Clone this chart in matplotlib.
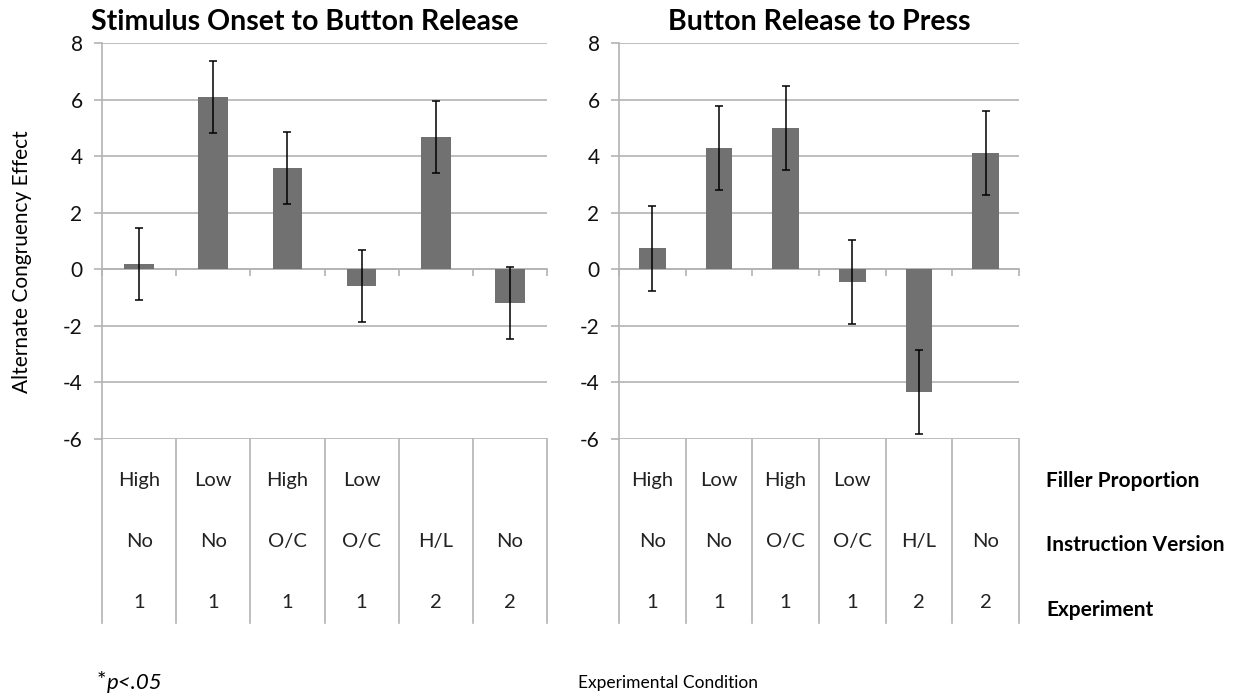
import numpy as np
import matplotlib.pyplot as plt
from matplotlib import transforms

plt.rcParams['font.family'] = ['Lato', 'DejaVu Sans']
plt.rcParams['axes.unicode_minus'] = False

# data
filler = ['High', 'Low', 'High', 'Low', '', '']
instruction = ['No', 'No', 'O/C', 'O/C', 'H/L', 'No']
experiment = ['1', '1', '1', '1', '2', '2']
row_names = ['Filler Proportion', 'Instruction Version', 'Experiment']

release_vals = [0.2, 6.1, 3.58, -0.6, 4.68, -1.2]
release_err = [1.27, 1.27, 1.27, 1.27, 1.27, 1.27]
press_vals = [0.74, 4.28, 5.0, -0.44, -4.35, 4.1]
press_err = [1.49, 1.49, 1.49, 1.49, 1.49, 1.49]

titles = ['Stimulus Onset to Button Release', 'Button Release to Press']

W, H = 1250, 700
fig = plt.figure(figsize=(12.5, 7), dpi=100)

grid_col = '#b3b3b3'
bar_col = '#717171'


def px_axes(x0, x1, y_top, y_bot):
    return fig.add_axes([x0 / W, 1 - y_bot / H, (x1 - x0) / W, (y_bot - y_top) / H])


def draw_panel(ax, vals, errs):
    x = np.arange(len(vals))
    ax.bar(x, vals, width=0.4, color=bar_col, zorder=3)
    ax.errorbar(x, vals, yerr=errs, fmt='none', ecolor='black', elinewidth=1.1,
                capsize=2.8, capthick=1.1, zorder=4)
    ax.set_xlim(-0.5, len(vals) - 0.5)
    ax.set_ylim(-6, 8)
    ax.set_yticks(np.arange(-6, 9, 2))
    ax.yaxis.grid(True, color=grid_col, linewidth=1.2, zorder=0)
    for s in ['top', 'right']:
        ax.spines[s].set_visible(False)
    ax.spines['left'].set_color(grid_col)
    ax.spines['left'].set_linewidth(1.2)
    ax.spines['bottom'].set_position(('data', 0))
    ax.spines['bottom'].set_color(grid_col)
    ax.spines['bottom'].set_linewidth(1.2)
    ax.spines['bottom'].set_zorder(2)
    bounds = np.arange(-0.5, len(vals), 1.0)
    ax.set_xticks(bounds)
    ax.set_xticklabels([])
    ax.tick_params(axis='x', direction='out', length=5, color=grid_col, width=1.2)
    ax.tick_params(axis='y', direction='out', length=6, color=grid_col, width=1.2,
                   labelsize=15, pad=8, labelcolor='#111111')

    # category table under the plot
    trans = transforms.blended_transform_factory(ax.transData, ax.transAxes)
    for b in bounds:
        ax.plot([b, b], [0, -0.465], transform=trans, color=grid_col,
                linewidth=1.2, clip_on=False)
    for i in range(len(vals)):
        for row, ypos in zip([filler, instruction, experiment], [-0.104, -0.26, -0.414]):
            ax.text(i, ypos, row[i], transform=trans, ha='center', va='center',
                    fontsize=14.5, color='#222222')


ax1 = px_axes(102, 547, 43, 439)
draw_panel(ax1, release_vals, release_err)
ax2 = px_axes(619, 1019, 43, 439)
draw_panel(ax2, press_vals, press_err)

fig.text(305 / W, 1 - 22 / H, titles[0], ha='center', va='center',
         fontsize=20.5, fontweight='bold')
fig.text(819 / W, 1 - 22 / H, titles[1], ha='center', va='center',
         fontsize=20.5, fontweight='bold')

fig.text(22 / W, 1 - 262 / H, 'Alternate Congruency Effect', rotation=90,
         ha='center', va='center', fontsize=15)

for name, ypx in zip(row_names, [481, 545, 610]):
    fig.text(1046 / W, 1 - ypx / H, name, ha='left', va='center',
             fontsize=15, fontweight='bold')

fig.text(668 / W, 1 - 683 / H, 'Experimental Condition', ha='center', va='center',
         fontsize=12.5)
fig.text(97 / W, 1 - 681 / H, '*', ha='left', va='center', fontsize=16)
fig.text(107 / W, 1 - 683 / H, 'p<.05', ha='left', va='center', fontsize=16,
         style='italic')

plt.savefig('out.png', dpi=100)
